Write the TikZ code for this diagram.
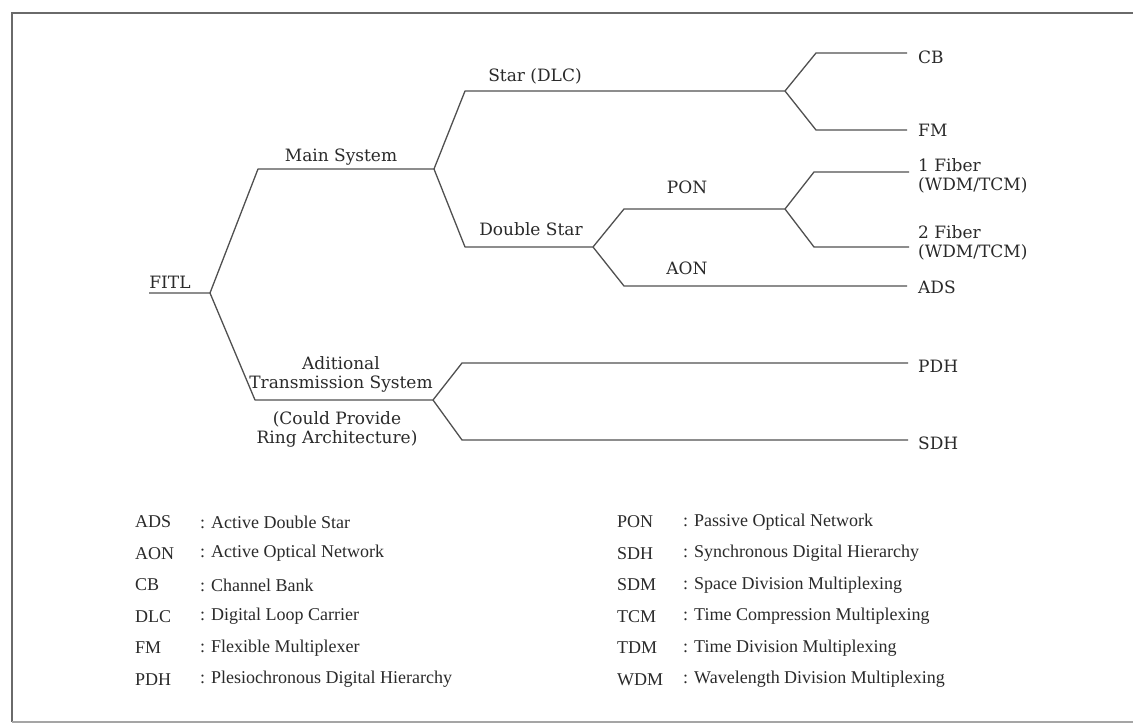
\documentclass[tikz,border=0pt]{standalone}
\usepackage{fontspec}
\setmainfont{Liberation Serif}
\newfontfamily\treefont{DejaVu Serif}
\definecolor{linegray}{HTML}{505050}
\definecolor{txtgray}{HTML}{2A2A2A}
\definecolor{framegray}{HTML}{6A6A6A}
\begin{document}
\begin{tikzpicture}[x=1pt,y=-1pt,
  branch/.style={draw=linegray, line width=1.3pt, line join=round},
  lbl/.style={font=\treefont\fontsize{17}{19}\selectfont, text=txtgray, inner sep=0pt, align=center},
  leaf/.style={lbl, anchor=west, align=left},
  abbr/.style={font=\fontsize{18}{20}\selectfont, text=txtgray, inner sep=0pt, anchor=west},
]
\useasboundingbox (0,0) rectangle (1133,725);
\fill[white] (0,0) rectangle (1133,725);

% frame
\draw[framegray, line width=2.6pt] (1133,13) -- (12,13) -- (12,722);
\draw[framegray!60, line width=1.4pt] (12,722) -- (1133,722);

% junction points of the tree
\coordinate (fitlA) at (149,293);  \coordinate (fitlB) at (210,293);
\coordinate (mainA) at (258,169);  \coordinate (mainB) at (434,169);
\coordinate (starA) at (465,91);   \coordinate (starB) at (785,91);
\coordinate (cbA)   at (816,53);   \coordinate (cbB)   at (907,53);
\coordinate (fmA)   at (816,130);  \coordinate (fmB)   at (907,130);
\coordinate (dsA)   at (465,247);  \coordinate (dsB)   at (593,247);
\coordinate (ponA)  at (624,209);  \coordinate (ponB)  at (785,209);
\coordinate (fOneA) at (814,172);  \coordinate (fOneB) at (909,172);
\coordinate (fTwoA) at (814,247);  \coordinate (fTwoB) at (909,247);
\coordinate (aonA)  at (624,286);  \coordinate (aonB)  at (907,286);
\coordinate (addA)  at (255,400);  \coordinate (addB)  at (433,400);
\coordinate (pdhA)  at (462,363);  \coordinate (pdhB)  at (908,363);
\coordinate (sdhA)  at (462,440);  \coordinate (sdhB)  at (908,440);

% branches
\draw[branch] (fitlA) -- (fitlB) -- (mainA) -- (mainB) -- (starA) -- (starB) -- (cbA) -- (cbB);
\draw[branch] (starB) -- (fmA) -- (fmB);
\draw[branch] (mainB) -- (dsA) -- (dsB) -- (ponA) -- (ponB) -- (fOneA) -- (fOneB);
\draw[branch] (ponB) -- (fTwoA) -- (fTwoB);
\draw[branch] (dsB) -- (aonA) -- (aonB);
\draw[branch] (fitlB) -- (addA) -- (addB) -- (pdhA) -- (pdhB);
\draw[branch] (addB) -- (sdhA) -- (sdhB);

% branch labels
\node[lbl] (fitl)  at (170,282) {FITL};
\node[lbl] (main)  at (341,157) {Main System};
\node[lbl] (star)  at (535,76)  {Star (DLC)};
\node[lbl] (dstar) at (531,229) {Double Star};
\node[lbl] (pon)   at (687,187) {PON};
\node[lbl] (aon)   at (687,268) {AON};
\node[lbl] (addl)  at (341,374) {Aditional\\Transmission System};
\node[lbl] (ring)  at (337,429) {(Could Provide\\Ring Architecture)};

% leaves
\node[leaf] (cb)   at (918,57)  {CB};
\node[leaf] (fm)   at (918,130) {FM};
\node[leaf] (fOne) at (918,176) {1 Fiber\\(WDM/TCM)};
\node[leaf] (fTwo) at (918,243) {2 Fiber\\(WDM/TCM)};
\node[leaf] (ads)  at (918,287) {ADS};
\node[leaf] (pdh)  at (918,366) {PDH};
\node[leaf] (sdh)  at (918,443) {SDH};

% abbreviation list, left column
\foreach \ab/\tx [count=\i from 0] in {ADS/Active Double Star, AON/Active Optical Network,
    CB/Channel Bank, DLC/Digital Loop Carrier, FM/Flexible Multiplexer,
    PDH/Plesiochronous Digital Hierarchy}{
  \node[abbr] (la\i) at (135,522+31.5*\i) {\ab};
  \node[abbr] (lt\i) at (200,522+31.5*\i) {: \tx};
}
% abbreviation list, right column
\foreach \ab/\tx [count=\i from 0] in {PON/Passive Optical Network, SDH/Synchronous Digital Hierarchy,
    SDM/Space Division Multiplexing, TCM/Time Compression Multiplexing,
    TDM/Time Division Multiplexing, WDM/Wavelength Division Multiplexing}{
  \node[abbr] (ra\i) at (617,522+31.5*\i) {\ab};
  \node[abbr] (rt\i) at (683,522+31.5*\i) {: \tx};
}
\end{tikzpicture}
\end{document}
